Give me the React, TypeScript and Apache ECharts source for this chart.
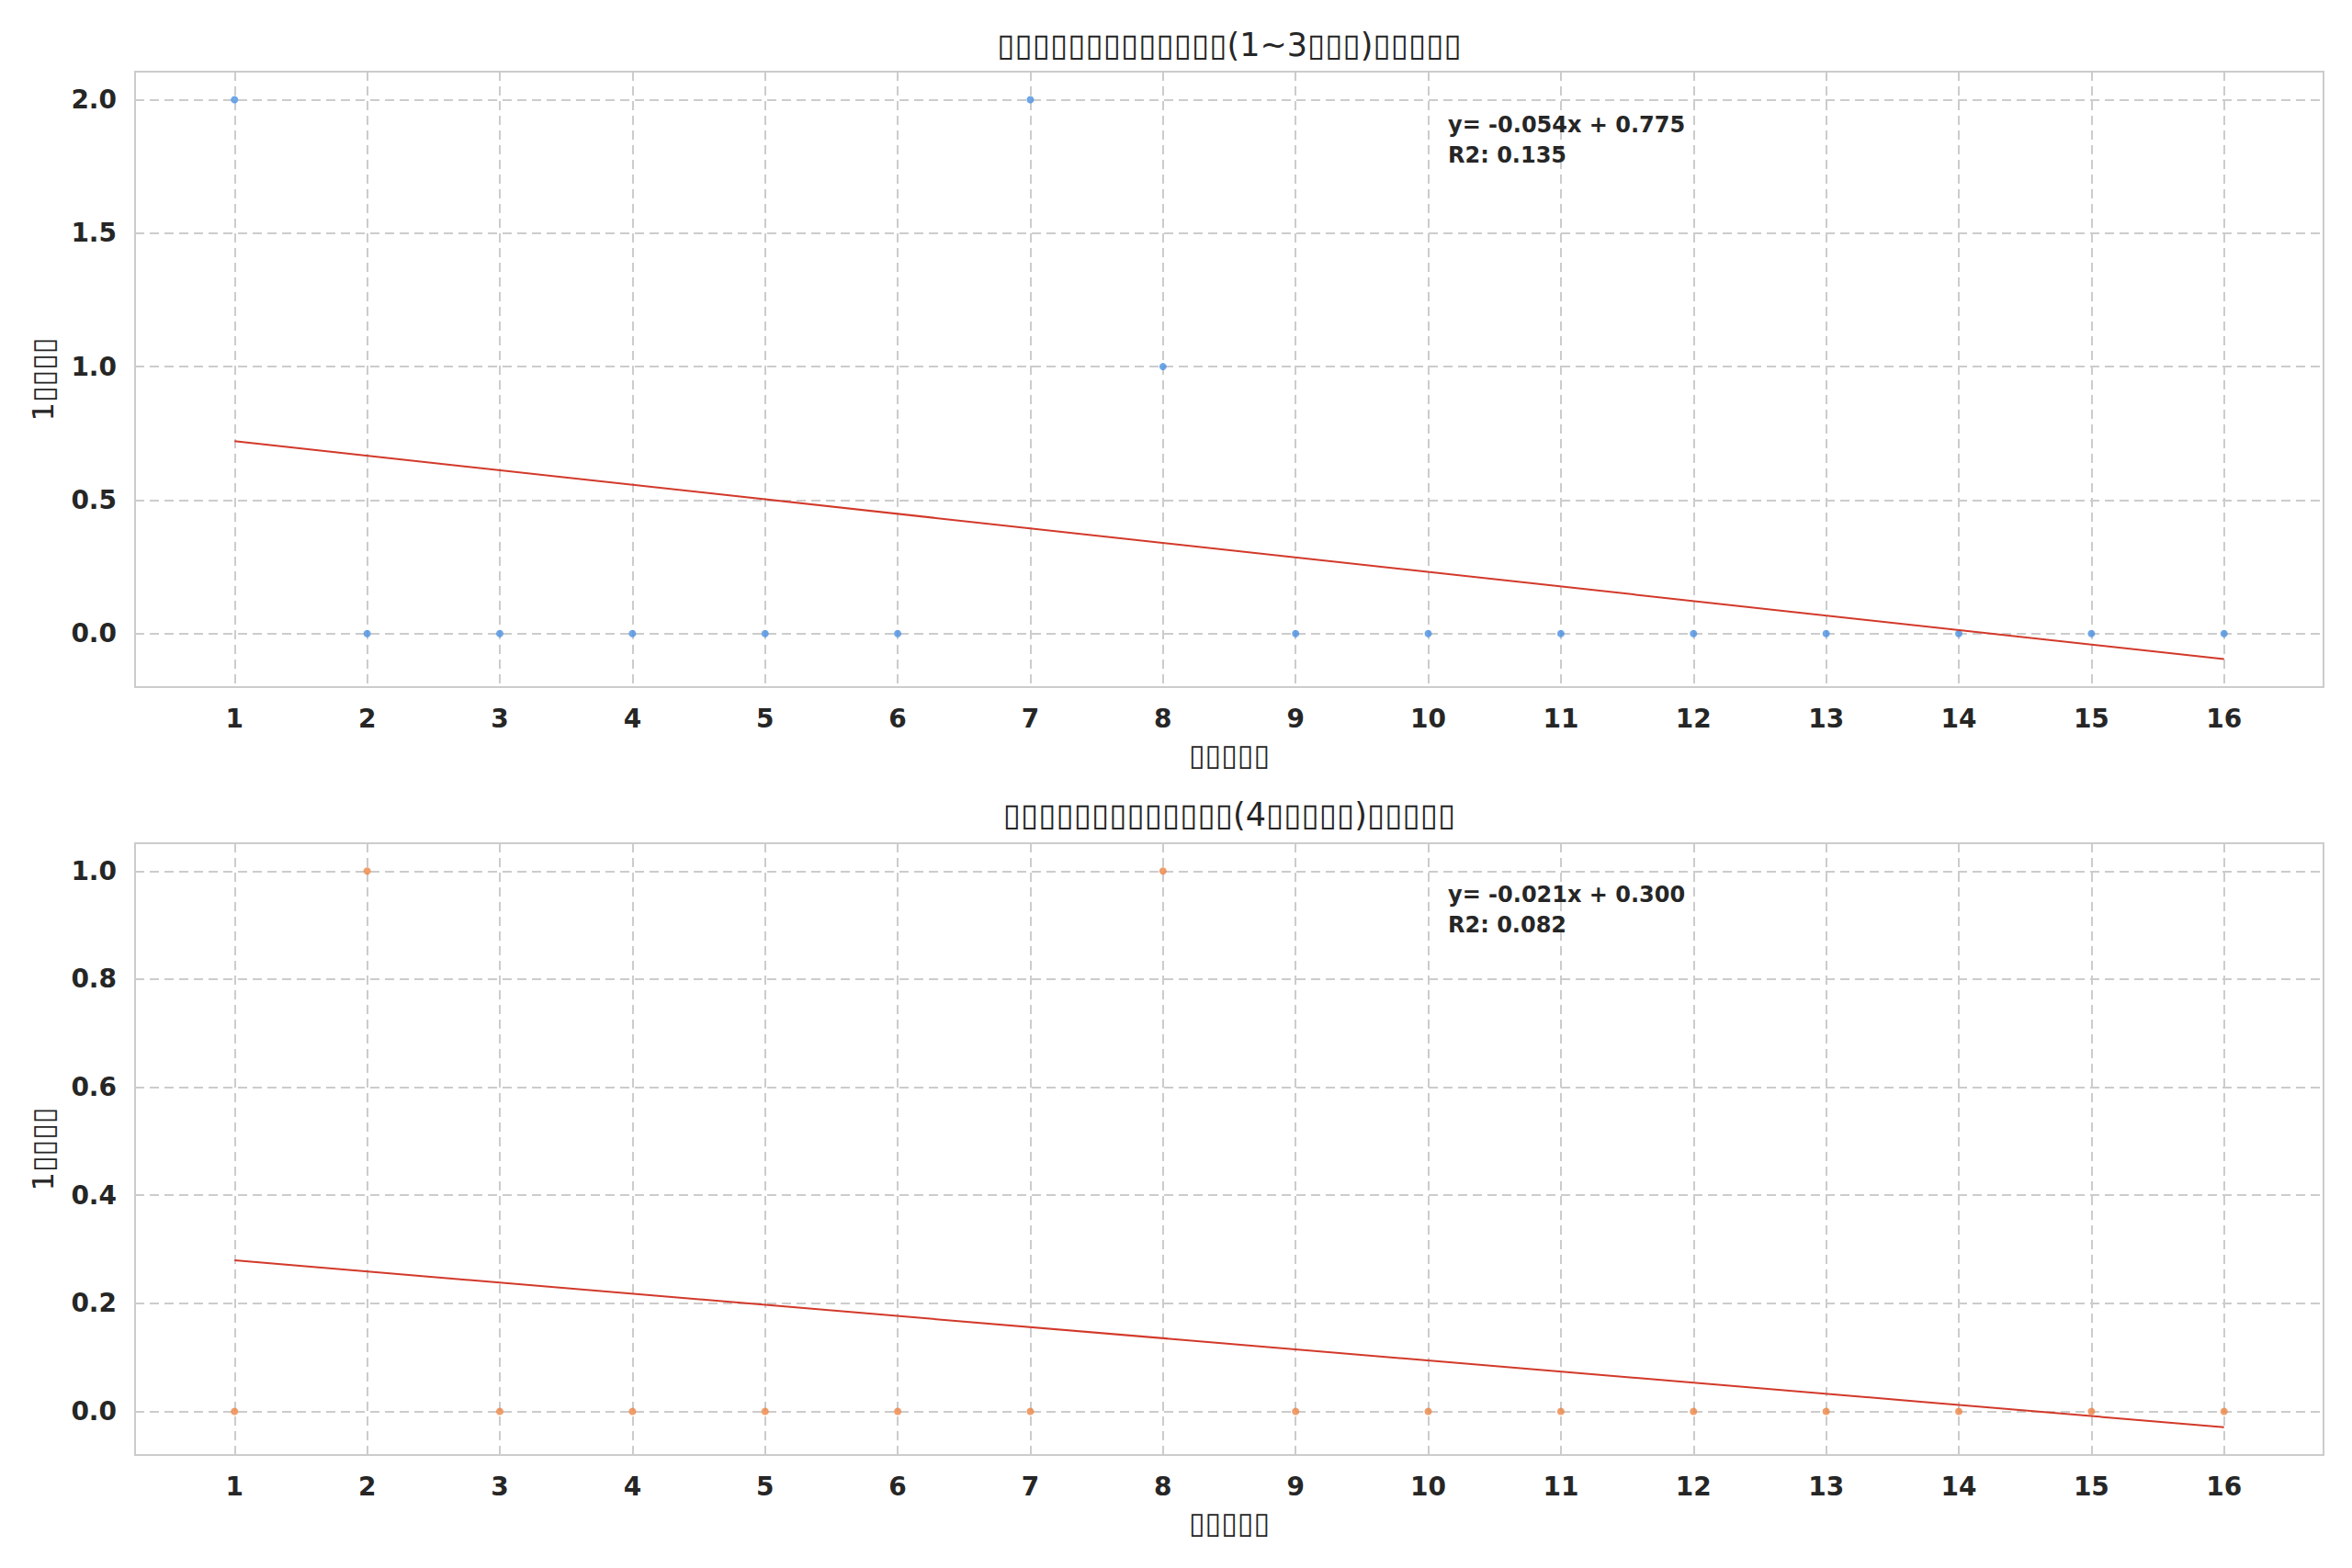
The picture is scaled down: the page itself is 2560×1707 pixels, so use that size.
import React, { useEffect, useRef } from "react";
import * as echarts from "echarts";

// ---- data ----
const months = [1, 2, 3, 4, 5, 6, 7, 8, 9, 10, 11, 12, 13, 14, 15, 16];
const countsA = [2, 0, 0, 0, 0, 0, 2, 1, 0, 0, 0, 0, 0, 0, 0, 0];
const countsB = [0, 1, 0, 0, 0, 0, 0, 1, 0, 0, 0, 0, 0, 0, 0, 0];
const yTicksA = [0, 0.5, 1.0, 1.5, 2.0];
const yTicksB = [0, 0.2, 0.4, 0.6, 0.8, 1.0];
const titleA = "▯▯▯▯▯▯▯▯▯▯▯▯▯(1~3▯▯▯)▯▯▯▯▯";
const titleB = "▯▯▯▯▯▯▯▯▯▯▯▯▯(4▯▯▯▯▯)▯▯▯▯▯";
const xName = "▯▯▯▯▯";
const yName = "1▯▯▯▯";

const FONT = "DejaVu Sans";
const TXT = "#262626";
const GRIDC = "#cccccc";

function fit(xs: number[], ys: number[]) {
  const n = xs.length;
  const mx = xs.reduce((a, b) => a + b, 0) / n;
  const my = ys.reduce((a, b) => a + b, 0) / n;
  let sxy = 0, sxx = 0, syy = 0;
  for (let i = 0; i < n; i++) {
    sxy += (xs[i] - mx) * (ys[i] - my);
    sxx += (xs[i] - mx) ** 2;
    syy += (ys[i] - my) ** 2;
  }
  const slope = sxy / sxx;
  const intercept = my - slope * mx;
  const r2 = (sxy * sxy) / (sxx * syy);
  return { slope, intercept, r2 };
}

function range(vals: number[]) {
  const lo = Math.min(...vals), hi = Math.max(...vals);
  const pad = (hi - lo) * 0.05;
  return [lo - pad, hi + pad];
}

export default function App() {
  const ref = useRef<HTMLDivElement>(null);
  useEffect(() => {
    const chart = echarts.init(ref.current!, null, { renderer: "svg" });
    const fa = fit(months, countsA);
    const fb = fit(months, countsB);
    const x0 = months[0], x1 = months[months.length - 1];
    const lineA = [[x0, fa.intercept + fa.slope * x0], [x1, fa.intercept + fa.slope * x1]];
    const lineB = [[x0, fb.intercept + fb.slope * x0], [x1, fb.intercept + fb.slope * x1]];
    const [yaMin, yaMax] = range([...countsA, lineA[0][1], lineA[1][1]]);
    const [ybMin, ybMax] = range([...countsB, lineB[0][1], lineB[1][1]]);
    const [xMin, xMax] = range(months);

    const grids = [
      { left: 147, right: 31, top: 78, height: 670 },
      { left: 147, right: 31, top: 918, height: 666 },
    ].map((g) => ({ ...g, show: true, borderColor: GRIDC, borderWidth: 2, backgroundColor: "#fff" }));

    const splitLine = { show: true, lineStyle: { color: GRIDC, width: 2, type: [10, 6] as any } };
    const labelStyle = { fontFamily: FONT, fontWeight: "bold" as const, fontSize: 28, color: TXT };
    const nameStyle = { fontFamily: FONT, fontSize: 32, color: TXT };

    const xAxis = [0, 1].map((i) => ({
      type: "value" as const,
      gridIndex: i,
      min: xMin,
      max: xMax,
      axisLine: { show: false },
      axisTick: { show: false, customValues: months },
      axisLabel: { ...labelStyle, margin: 20, customValues: months, formatter: (v: number) => String(v) },
      splitLine,
      name: xName,
      nameLocation: "middle" as const,
      nameGap: 58,
      nameTextStyle: nameStyle,
    }));
    const yAxis = [
      { min: yaMin, max: yaMax, ticks: yTicksA },
      { min: ybMin, max: ybMax, ticks: yTicksB },
    ].map((a, i) => ({
      type: "value" as const,
      gridIndex: i,
      min: a.min,
      max: a.max,
      axisLine: { show: false },
      axisTick: { show: false, customValues: a.ticks },
      axisLabel: { ...labelStyle, margin: 20, customValues: a.ticks, formatter: (v: number) => v.toFixed(1) },
      splitLine,
      name: yName,
      nameLocation: "middle" as const,
      nameGap: 84,
      nameRotate: 90,
      nameTextStyle: nameStyle,
    }));

    const scatter = (data: number[], idx: number, color: string) => ({
      type: "scatter" as const,
      xAxisIndex: idx,
      yAxisIndex: idx,
      symbolSize: 8,
      itemStyle: { color },
      data: months.map((m, j) => [m, data[j]]),
      z: 3,
    });
    const fitLine = (d: number[][], idx: number) => ({
      type: "line" as const,
      xAxisIndex: idx,
      yAxisIndex: idx,
      data: d,
      showSymbol: false,
      symbol: "none",
      lineStyle: { color: "#D2392A", width: 2 },
      z: 4,
    });

    const annot = (f: { slope: number; intercept: number; r2: number }) =>
      `y= ${f.slope.toFixed(3)}x + ${f.intercept.toFixed(3)}\nR2: ${f.r2.toFixed(3)}`;

    const titleStyle = { fontFamily: FONT, fontSize: 35, fill: TXT, align: "center", verticalAlign: "middle" };
    const annotStyle = { fontFamily: FONT, fontWeight: "bold", fontSize: 24, lineHeight: 33, fill: TXT, align: "left", verticalAlign: "top" };

    chart.setOption({
      animation: false,
      backgroundColor: "#ffffff",
      grid: grids,
      xAxis,
      yAxis,
      series: [
        scatter(countsA, 0, "#4A90E2"),
        fitLine(lineA, 0),
        scatter(countsB, 1, "#EE8444"),
        fitLine(lineB, 1),
      ],
      graphic: [
        { type: "text", x: 1338, y: 49, style: { ...titleStyle, text: titleA } },
        { type: "text", x: 1338, y: 887, style: { ...titleStyle, text: titleB } },
        { type: "text", x: 1576, y: 119, z: 10, style: { ...annotStyle, text: annot(fa) } },
        { type: "text", x: 1576, y: 957, z: 10, style: { ...annotStyle, text: annot(fb) } },
      ],
    });
    return () => chart.dispose();
  }, []);
  return <div ref={ref} style={{ position: "fixed", left: 0, top: 0, width: 2560, height: 1707, background: "#fff" }} />;
}
